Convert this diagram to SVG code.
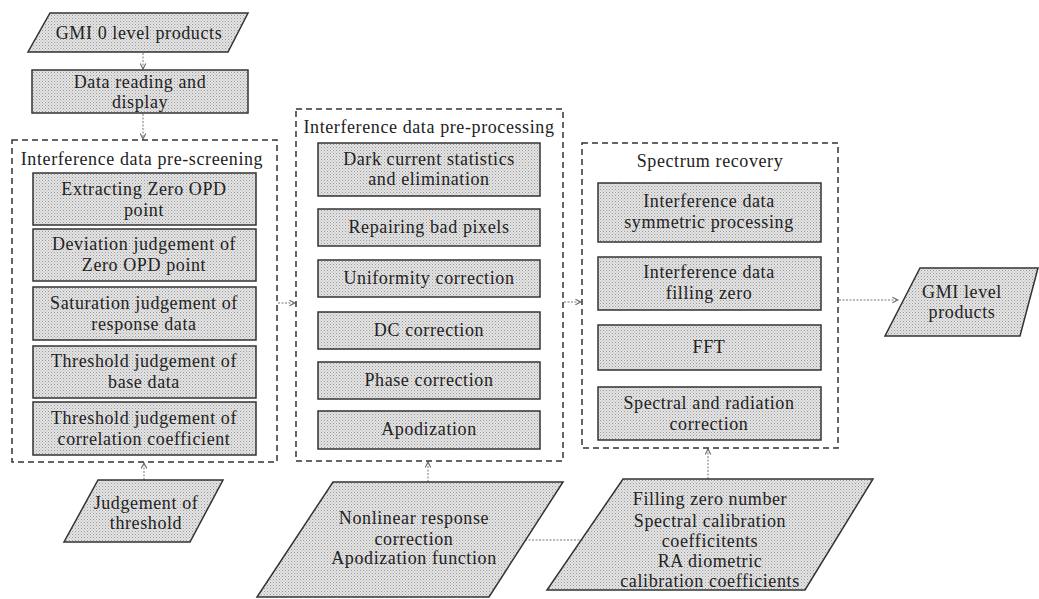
<svg xmlns="http://www.w3.org/2000/svg" width="1039" height="599" viewBox="0 0 1039 599">
<style>
.box{fill:url(#dots);stroke:#333;stroke-width:1.5}
.grp{fill:none;stroke:#333;stroke-width:1.5;stroke-dasharray:6 4}
.t{font-family:"Liberation Serif","Times New Roman",serif;font-size:18px;fill:#222;text-anchor:middle;letter-spacing:0.6px}
.c{fill:none;stroke:#777;stroke-width:1;stroke-dasharray:2 1.5}
</style>
<defs>
<pattern id="dots" width="3" height="3" patternUnits="userSpaceOnUse">
<rect width="3" height="3" fill="#e4e4e4"/>
<rect x="0" y="0" width="1" height="1" fill="#9a9a9a"/>
<rect x="1.5" y="1.5" width="1" height="1" fill="#b0b0b0"/>
</pattern>
<marker id="ah" viewBox="0 0 10 10" refX="9" refY="5" markerWidth="7" markerHeight="7" orient="auto">
<path d="M1,1 L9,5 L1,9" fill="none" stroke="#666" stroke-width="1.5"/>
</marker>
</defs>
<rect width="1039" height="599" fill="#fff"/>

<g id="connectors">
<line class="c" x1="143" y1="53" x2="143" y2="69" marker-end="url(#ah)"/>
<line class="c" x1="143" y1="114" x2="143" y2="139" marker-end="url(#ah)"/>
<line class="c" x1="278" y1="303" x2="295" y2="303" marker-end="url(#ah)"/>
<line class="c" x1="564" y1="302" x2="581" y2="302" marker-end="url(#ah)"/>
<line class="c" x1="839" y1="300" x2="898" y2="300" marker-end="url(#ah)"/>
<line class="c" x1="144" y1="480" x2="144" y2="463" marker-end="url(#ah)"/>
<line class="c" x1="428" y1="482" x2="428" y2="462" marker-end="url(#ah)"/>
<line class="c" x1="708" y1="479" x2="708" y2="449" marker-end="url(#ah)"/>
<line class="c" x1="525" y1="540" x2="582" y2="540"/>
</g>

<g id="gmi0">
<polygon class="box" points="50,13 248,13 228,52 28,52"/>
<text class="t" x="139" y="39">GMI 0 level products</text>
</g>
<g id="reading">
<rect class="box" x="32" y="70" width="216" height="43"/>
<text class="t" x="140" y="88">Data reading and</text>
<text class="t" x="140" y="108">display</text>
</g>

<g id="prescreening">
<rect class="grp" x="12" y="140" width="265" height="322"/>
<text class="t" x="142" y="165">Interference data pre-screening</text>
<g id="ps1"><rect class="box" x="33" y="173" width="223" height="52"/>
<text class="t" x="144" y="195">Extracting Zero OPD</text><text class="t" x="144" y="216">point</text></g>
<g id="ps2"><rect class="box" x="33" y="229" width="223" height="52"/>
<text class="t" x="144" y="250">Deviation judgement of</text><text class="t" x="144" y="271">Zero OPD point</text></g>
<g id="ps3"><rect class="box" x="33" y="287" width="223" height="53"/>
<text class="t" x="144" y="309">Saturation judgement of</text><text class="t" x="144" y="330">response data</text></g>
<g id="ps4"><rect class="box" x="33" y="346" width="223" height="52"/>
<text class="t" x="144" y="367">Threshold judgement of</text><text class="t" x="144" y="388">base data</text></g>
<g id="ps5"><rect class="box" x="33" y="402" width="223" height="53"/>
<text class="t" x="144" y="424">Threshold judgement of</text><text class="t" x="144" y="445">correlation coefficient</text></g>
</g>

<g id="preprocessing">
<rect class="grp" x="296" y="109" width="267" height="352"/>
<text class="t" x="429" y="133">Interference data pre-processing</text>
<g id="pp1"><rect class="box" x="318" y="143" width="222" height="53"/>
<text class="t" x="429" y="165">Dark current statistics</text><text class="t" x="429" y="185">and elimination</text></g>
<g id="pp2"><rect class="box" x="318" y="209" width="222" height="37"/>
<text class="t" x="429" y="233">Repairing bad pixels</text></g>
<g id="pp3"><rect class="box" x="318" y="260" width="222" height="37"/>
<text class="t" x="429" y="284">Uniformity correction</text></g>
<g id="pp4"><rect class="box" x="318" y="312" width="222" height="37"/>
<text class="t" x="429" y="336">DC correction</text></g>
<g id="pp5"><rect class="box" x="318" y="362" width="222" height="37"/>
<text class="t" x="429" y="386">Phase correction</text></g>
<g id="pp6"><rect class="box" x="318" y="411" width="222" height="38"/>
<text class="t" x="429" y="435">Apodization</text></g>
</g>

<g id="spectrum">
<rect class="grp" x="582" y="143" width="256" height="305"/>
<text class="t" x="710" y="167">Spectrum recovery</text>
<g id="sr1"><rect class="box" x="598" y="183" width="223" height="59"/>
<text class="t" x="709" y="207">Interference data</text><text class="t" x="709" y="228">symmetric processing</text></g>
<g id="sr2"><rect class="box" x="598" y="257" width="223" height="53"/>
<text class="t" x="709" y="278">Interference data</text><text class="t" x="709" y="299">filling zero</text></g>
<g id="sr3"><rect class="box" x="598" y="325" width="223" height="45"/>
<text class="t" x="709" y="353">FFT</text></g>
<g id="sr4"><rect class="box" x="598" y="387" width="223" height="53"/>
<text class="t" x="709" y="409">Spectral and radiation</text><text class="t" x="709" y="430">correction</text></g>
</g>

<g id="gmiLevel">
<polygon class="box" points="920,268 1038,268 1020,336 885,336"/>
<text class="t" x="962" y="298">GMI level</text>
<text class="t" x="962" y="318">products</text>
</g>

<g id="threshold">
<polygon class="box" points="98,480 223,480 190,542 64,542"/>
<text class="t" x="146" y="509">Judgement of</text>
<text class="t" x="146" y="529">threshold</text>
</g>

<g id="nonlinear">
<polygon class="box" points="333,482 563,482 489,597 257,597"/>
<text class="t" x="414" y="524">Nonlinear response</text>
<text class="t" x="414" y="545">correction</text>
<text class="t" x="414" y="564">Apodization function</text>
</g>

<g id="calib">
<polygon class="box" points="623,479 873,479 805,590 547,590"/>
<text class="t" x="710" y="505">Filling zero number</text>
<text class="t" x="710" y="527">Spectral calibration</text>
<text class="t" x="710" y="547">coefficitents</text>
<text class="t" x="710" y="567">RA diometric</text>
<text class="t" x="710" y="587">calibration coefficients</text>
</g>
</svg>
